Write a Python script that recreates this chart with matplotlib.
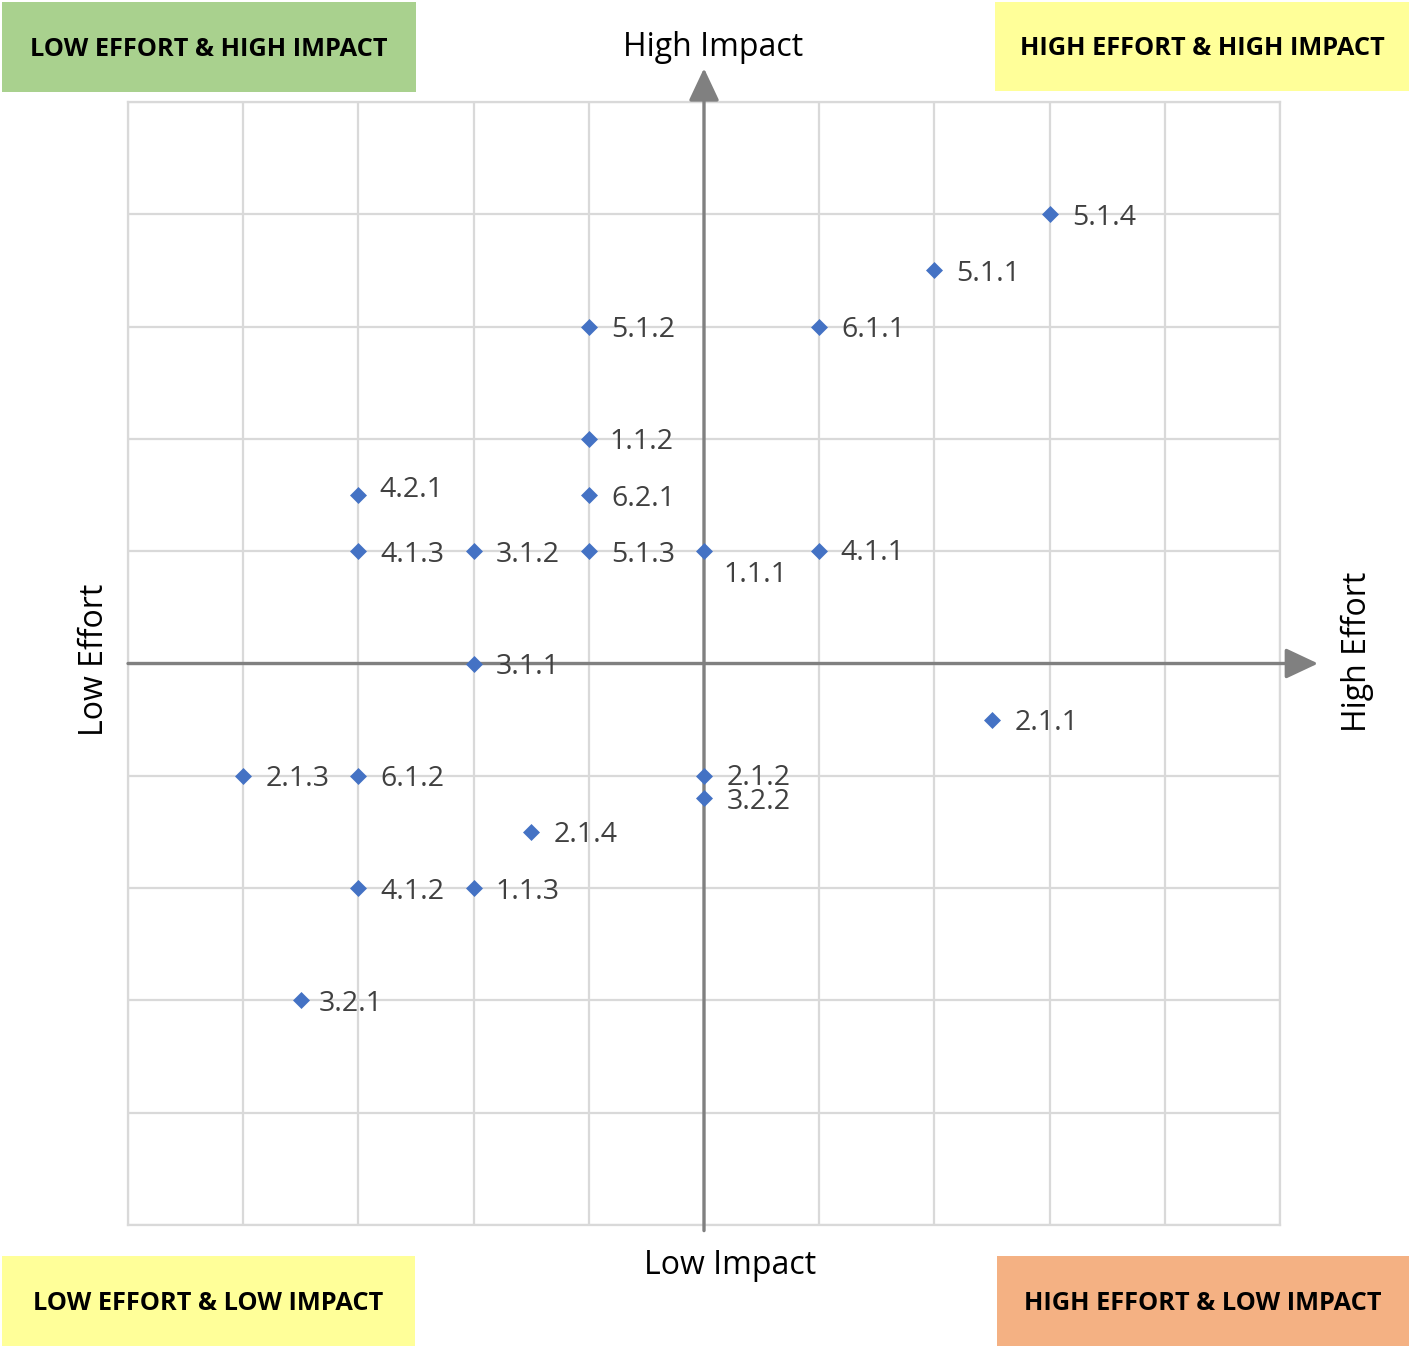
import matplotlib
matplotlib.use("Agg")
import matplotlib.pyplot as plt
from matplotlib.patches import Rectangle

# Initiative scores: effort (x) and impact (y), both on a -5..5 scale
labels = ["5.1.4", "5.1.1", "6.1.1", "5.1.2", "1.1.2", "6.2.1", "4.2.1",
          "4.1.3", "3.1.2", "5.1.3", "1.1.1", "4.1.1", "3.1.1", "2.1.1",
          "2.1.3", "6.1.2", "2.1.2", "3.2.2", "2.1.4", "4.1.2", "1.1.3", "3.2.1"]
effort = [3, 2, 1, -1, -1, -1, -3,
          -3, -2, -1, 0, 1, -2, 2.5,
          -4, -3, 0, 0, -1.5, -3, -2, -3.5]
impact = [4, 3.5, 3, 3, 2, 1.5, 1.5,
          1, 1, 1, 1, 1, 0, -0.5,
          -1, -1, -1, -1.2, -1.5, -2, -2, -3]

W, H = 1409, 1346
fig = plt.figure(figsize=(W / 100, H / 100), dpi=100)
plt.rcParams["font.family"] = ["Open Sans", "DejaVu Sans"]

left, right, top, bottom = 128, 1280, 102, 1225
ax = fig.add_axes([left / W, 1 - bottom / H, (right - left) / W, (bottom - top) / H])
ax.set_xlim(-5, 5)
ax.set_ylim(-5, 5)
ax.set_xticks(range(-5, 6))
ax.set_yticks(range(-5, 6))
ax.tick_params(length=0, labelbottom=False, labelleft=False)
ax.grid(True, color="#D9D9D9", lw=1.6)
for s in ax.spines.values():
    s.set_color("#D9D9D9")
    s.set_linewidth(1.6)
ax.set_axisbelow(True)

# Central axes with arrowheads
arrow_style = "-|>,head_length=1.0,head_width=0.47"
ax.annotate("", xy=(0, 5.30), xytext=(0, -5.05), xycoords="data",
            arrowprops=dict(arrowstyle=arrow_style, color="#808080", lw=2.4,
                            mutation_scale=20, shrinkA=0, shrinkB=0),
            annotation_clip=False)
ax.annotate("", xy=(5.33, 0), xytext=(-5, 0), xycoords="data",
            arrowprops=dict(arrowstyle=arrow_style, color="#808080", lw=2.4,
                            mutation_scale=20, shrinkA=0, shrinkB=0),
            annotation_clip=False)

ax.scatter(effort, impact, marker="D", s=75, color="#4472C4", zorder=5,
           linewidths=0, clip_on=False)

# Label offsets in points (default: to the right of the marker)
default_off = (16, -2.5)
offsets = {"1.1.1": (14, -17), "4.2.1": (15, 3.5), "2.1.2": (16, -1.5),
           "3.2.2": (16, -3), "4.1.1": (15, -1), "3.2.1": (13, -2.5),
           "1.1.2": (15, -2.5)}
for lab, x, y in zip(labels, effort, impact):
    ax.annotate(lab, (x, y), xytext=offsets.get(lab, default_off),
                textcoords="offset points", ha="left", va="center",
                fontsize=20.5, color="#404040", zorder=6)

# Axis captions
fig.text(713 / W, 1 - 48 / H, "High Impact", ha="center", va="center",
         fontsize=23, color="black")
fig.text(730 / W, 1 - 1265 / H, "Low Impact", ha="center", va="center",
         fontsize=23, color="black")
fig.text(94 / W, 1 - 660 / H, "Low Effort", ha="center", va="center",
         fontsize=23, rotation=90, color="black")
fig.text(1357 / W, 1 - 652 / H, "High Effort", ha="center", va="center",
         fontsize=23, rotation=90, color="black")

# Quadrant tags
boxes = [
    (2, 2, 416, 92, "#A9D18E", "LOW EFFORT & HIGH IMPACT"),
    (995, 2, 1409, 91, "#FFFF99", "HIGH EFFORT & HIGH IMPACT"),
    (2, 1256, 415, 1346, "#FFFF99", "LOW EFFORT & LOW IMPACT"),
    (997, 1256, 1409, 1346, "#F4B183", "HIGH EFFORT & LOW IMPACT"),
]
for x0, y0, x1, y1, col, txt in boxes:
    fig.patches.append(Rectangle((x0 / W, 1 - y1 / H), (x1 - x0) / W, (y1 - y0) / H,
                                 transform=fig.transFigure, facecolor=col,
                                 edgecolor="none", zorder=0))
    fig.text((x0 + x1) / 2 / W, 1 - ((y0 + y1) / 2 + 2) / H, txt, ha="center",
             va="center", fontsize=18.3, fontweight="bold", color="black")

fig.savefig("out.png", dpi=100)
